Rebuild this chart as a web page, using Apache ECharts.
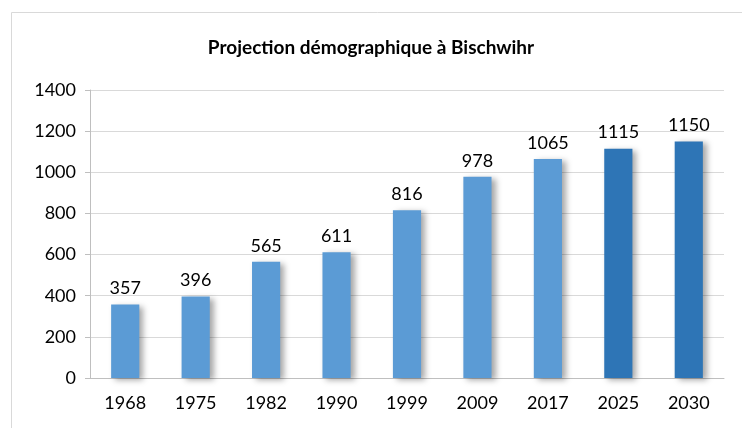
<!DOCTYPE html>
<html>
<head>
<meta charset="utf-8">
<script src="https://cdn.jsdelivr.net/npm/echarts@6/dist/echarts.min.js"></script>
<style>
  html, body { margin: 0; padding: 0; background: #fff; }
  #chart { width: 742px; height: 428px; }
</style>
</head>
<body>
<div id="chart"></div>
<script>
// années et population (les deux dernières sont des projections)
const years = ['1968', '1975', '1982', '1990', '1999', '2009', '2017', '2025', '2030']
const population = [357, 396, 565, 611, 816, 978, 1065, 1115, 1150]
const projected = [false, false, false, false, false, false, false, true, true]

const chart = echarts.init(document.getElementById('chart'))

chart.setOption({
  animation: false,
  textStyle: { fontFamily: 'Lato' },
  title: {
    text: 'Projection démographique à Bischwihr',
    left: 'center',
    top: 33,
    textStyle: { fontSize: 19, fontWeight: 'bold', color: '#000', fontFamily: 'Lato' }
  },
  graphic: [{
    type: 'rect',
    shape: { x: 11.5, y: 12.5, width: 760, height: 440 },
    style: { fill: 'none', stroke: '#d9d9d9', lineWidth: 1 },
    silent: true
  }],
  grid: { left: 90, right: 18, top: 90, bottom: 50 },
  xAxis: {
    type: 'category',
    data: years,
    axisLine: { lineStyle: { color: '#bfbfbf' } },
    axisTick: { length: 6, lineStyle: { color: '#bfbfbf' } },
    axisLabel: { fontSize: 18, color: '#000', margin: 16 }
  },
  yAxis: {
    type: 'value',
    min: 0,
    max: 1400,
    interval: 200,
    axisLine: { show: true, lineStyle: { color: '#bfbfbf' } },
    axisTick: { show: true, length: 5, lineStyle: { color: '#bfbfbf' } },
    axisLabel: { fontSize: 18, color: '#000', margin: 14, formatter: v => String(v) },
    splitLine: { lineStyle: { color: '#d9d9d9' } }
  },
  series: [{
    type: 'bar',
    barWidth: '40%',
    data: population.map((v, i) => ({
      value: v,
      itemStyle: { color: projected[i] ? '#2e75b6' : '#5b9bd5' }
    })),
    itemStyle: {
      shadowBlur: 6,
      shadowOffsetX: 4,
      shadowOffsetY: 2,
      shadowColor: 'rgba(0,0,0,0.35)'
    },
    label: {
      show: true,
      position: 'top',
      distance: 7,
      fontSize: 18,
      color: '#000'
    }
  }]
})
</script>
</body>
</html>
